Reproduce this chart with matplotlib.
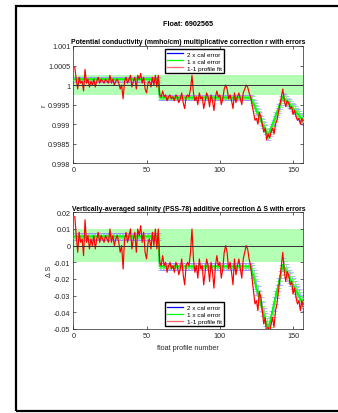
import numpy as np
import matplotlib
matplotlib.use('Agg')
import matplotlib.pyplot as plt
from matplotlib.patches import Rectangle
from matplotlib.lines import Line2D

plt.rcParams['font.family'] = ['Liberation Sans', 'DejaVu Sans']

float_id = '6902565'
profile_no = np.arange(1, 158)

# 1-1 profile fit, conductivity factor r (deviation from 1, units of 1e-4)
r_dev = [4.5, 1.5, -1, 2, 0.5, 1, -1.5, 4, 0.5, 1.5, -0.5, 1, 0, 1.5, -0.5, 1, 2, 0.5, 1.5, 1,
         0.5, 1.5, 1, 0.5, 2.5, 0.5, 1.5, 0, 1, 1.5, 0.5, -1, 0, -3.5, 1, 2, 0.5, 1.5, 2.5, -0.5,
         1, 2, -1, 2.5, 1.5, 3, 0.5, 2, -1, -2, 0.5, 1, -0.5, 2, 0, 2.5, -0.5, 2.5,
         -2.5, -3, -1.5, -3, -2.5, -4, -3, -2.5, -3.5, -3, -4, -2.5, -3, -4.5, -3.5, -2, -4.5, -6,
         -3, -2.5, -3, -1, 2.5, -2, -4, -3, -5, -2, -3.5, -3, -6, -4, -2, -3, -5.5, -2.5, -4, -6.5,
         -3, -1.5, -3, -2.5, -5, -3.5, -1, 0, -1, -3.5, -2.5, -4, -6, -2, -4.5, -3, -2, -3.5, -5,
         -2, -1, 0, -0.5, -2, -3,
         -5, -7, -9, -8.5, -10, -7, -8, -10, -12, -11, -14, -12.5, -13.5, -12, -11, -12.5, -10,
         -9, -7, -5, -3, -1, -4, -5.5, -4, -4.5, -6, -5.5, -7.5, -6.5, -8, -9, -8.5, -10, -8.5, -9.5]

# 1-1 profile fit, salinity correction (units of 1e-3)
ds_fit = [17.5, 6, -4, 8, 2, 4, -6, 15.5, 2, 6, -2, 4, 0, 6, -2, 4, 8, 2, 6, 4,
          2, 6, 4, 2, 10, 2, 6, 0, 4, 6, 2, -4, 0, -14, 4, 8, 2, 6, 10, -2,
          4, 8, -4, 10, 6, 12, 2, 8, -4, -8, 2, 4, -2, 8, 0, 10, -2, 10,
          -10, -12, -6, -12, -10, -16, -12, -10, -14, -12, -16, -10, -12, -17.5, -14, -8, -17.5, -23.5,
          -12, -10, -12, -4, 10, -8, -16, -12, -19.5, -8, -14, -12, -23.5, -16, -8, -12, -21.5, -10, -16, -25.5,
          -12, -6, -12, -10, -19.5, -14, -4, 0, -4, -14, -10, -16, -23.5, -8, -17.5, -12, -8, -14, -19.5,
          -8, -4, 0, -2, -8, -12,
          -19.5, -27.5, -35, -33, -39, -27.5, -31, -39, -47, -43, -54.5, -49, -52.5, -47, -43, -49, -39,
          -35, -27.5, -19.5, -12, -4, -15.5, -21.5, -15.5, -17.5, -23.5, -21.5, -29, -25.5, -31, -35, -33, -39, -33, -37]

# calibration fit (r deviation 1e-4, salinity 1e-3)
cal_r = [1.5] * 58 + [-3.2] * 63 + [
    -4, -4.8, -5.6, -6.5, -7.3, -8.1, -9, -9.8, -10.6, -11.4, -12.2, -13, -12, -11, -10, -9, -8, -7,
    -6, -5, -4, -3, -3.4, -3.9, -4.3, -4.7, -5.1, -5.6, -6, -6.4, -6.9, -7.3, -7.7, -8.2, -8.6, -9]
cal_s = [5.5] * 58 + [-12.5] * 63 + [
    -15.5, -18.5, -22, -25.5, -28.5, -31.5, -35, -38, -41.5, -44.5, -47.5, -50.5, -47, -43, -39, -35, -31, -27.5,
    -23.5, -19.5, -15.5, -11.5, -13, -15, -17, -18.5, -20, -22, -23.5, -25, -27, -28.5, -30, -32, -33.5, -35]
# 1 x cal error
err_r = [0.3] * 58 + [0.3] * 63 + [0.55] * 36
err_s = [1.0] * 58 + [1.1] * 63 + [2.0] * 36

r_prof = 1 + np.array(r_dev) * 1e-4
s_prof = np.array(ds_fit) * 1e-3
r_cal = 1 + np.array(cal_r) * 1e-4
s_cal = np.array(cal_s) * 1e-3
r_err = np.array(err_r) * 1e-4
s_err = np.array(err_s) * 1e-3

fig = plt.figure(figsize=(3.38, 4.14), dpi=100)
fs = 5.2
tc = '#262626'

def panel(ax, y, cal, err, band, ref, ylim, yticks, yticklabels, title, ylabel):
    ax.fill_between([0, 157], [ref - band] * 2, [ref + band] * 2, color='#b3ffb3', lw=0, zorder=0)
    ax.errorbar(profile_no, cal, yerr=2 * err, color='#0000ff', ecolor='#9999ff', elinewidth=0.5,
                capsize=1.8, capthick=0.5, lw=0.9, zorder=2)
    ax.errorbar(profile_no, cal, yerr=err, color='#00ff00', ecolor='#66ff66', elinewidth=0.6,
                capsize=1.8, capthick=0.6, lw=1.3, zorder=3)
    ax.plot(profile_no, y, color='#ff0000', lw=0.85, zorder=4)
    ax.axhline(ref, color='#333333', lw=0.7, zorder=5)
    ax.set_xlim(0, 157)
    ax.set_ylim(*ylim)
    ax.set_xticks([0, 50, 100, 150])
    ax.set_yticks(yticks)
    ax.set_yticklabels(yticklabels)
    ax.tick_params(direction='in', length=2.5, width=0.5, labelsize=fs, colors=tc,
                   top=True, right=True, pad=2)
    for sp in ax.spines.values():
        sp.set_linewidth(0.5)
        sp.set_color(tc)
    ax.set_title(title, fontsize=4.95, fontweight='bold', pad=2)
    ax.set_ylabel(ylabel, fontsize=fs, color=tc, labelpad=0.5)

handles = [Line2D([], [], color='#0000ff', lw=0.9),
           Line2D([], [], color='#00ff00', lw=0.9),
           Line2D([], [], color='#ff6666', lw=0.9)]
labels = ['2 x cal error', '1 x cal error', '1-1 profile fit']

ax1 = fig.add_axes([0.2169, 0.6031, 0.6805, 0.2834])
panel(ax1, r_prof, r_cal, r_err, 0.00025, 1.0, (0.998, 1.001),
      [0.998, 0.9985, 0.999, 0.9995, 1.0, 1.0005, 1.001],
      ['0.998', '0.9985', '0.999', '0.9995', '1', '1.0005', '1.001'],
      'Potential conductivity (mmho/cm) multiplicative correction r with errors', 'r')
ax1.legend(handles, labels, loc='upper center', bbox_to_anchor=(0.527, 1.0), fontsize=4.6,
           fancybox=False, edgecolor='black', framealpha=1, handlelength=2.6,
           borderpad=0.3, labelspacing=0.25, handletextpad=0.6)

ax2 = fig.add_axes([0.2169, 0.2029, 0.6805, 0.2819])
panel(ax2, s_prof, s_cal, s_err, 0.01, 0.0, (-0.05, 0.02),
      [-0.05, -0.04, -0.03, -0.02, -0.01, 0, 0.01, 0.02],
      ['-0.05', '-0.04', '-0.03', '-0.02', '-0.01', '0', '0.01', '0.02'],
      'Vertically-averaged salinity (PSS-78) additive correction \u0394 S with errors', '\u0394 S')
ax2.set_xlabel('float profile number', fontsize=fs, color=tc, labelpad=4)
ax2.legend(handles, labels, loc='lower center', bbox_to_anchor=(0.527, 0.0), fontsize=4.6,
           fancybox=False, edgecolor='black', framealpha=1, handlelength=2.6,
           borderpad=0.3, labelspacing=0.25, handletextpad=0.6)

fig.text(0.556, 1 - 25 / 414, 'Float: ' + float_id, fontsize=5.2, fontweight='bold',
         ha='center', va='center')

# outer frame
fig.add_artist(Rectangle((15.5 / 338, 2 / 414), 1.2, 405 / 414, transform=fig.transFigure,
                         fill=False, lw=1.6, edgecolor='black', clip_on=False))

fig.savefig('out.png', dpi=100)
